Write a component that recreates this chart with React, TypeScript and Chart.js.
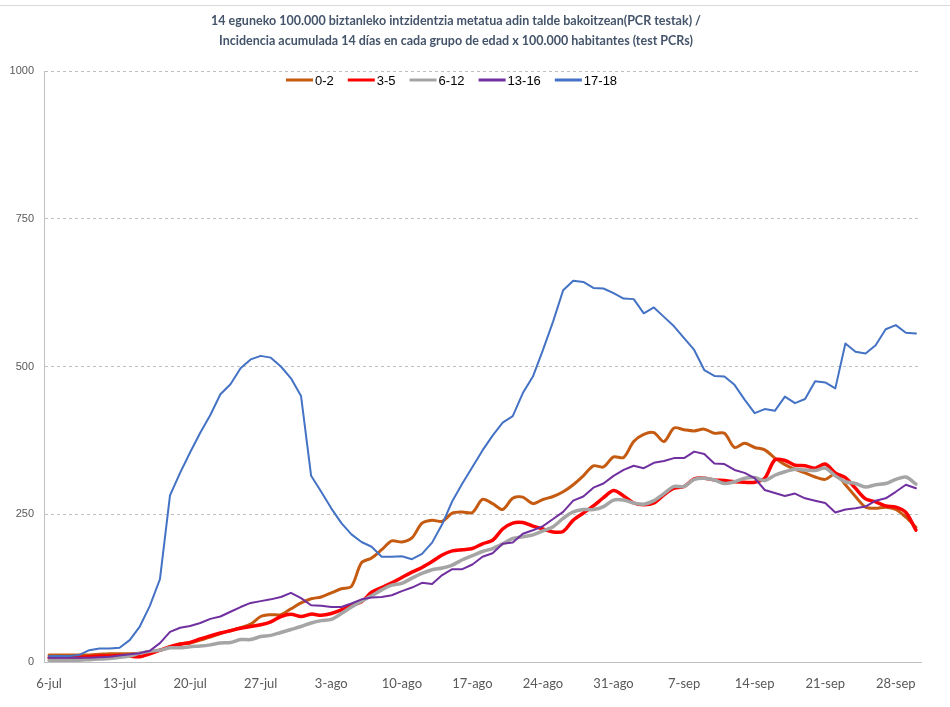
import React, { useEffect, useRef } from "react";
import { Chart, registerables } from "chart.js";

Chart.register(...registerables);

const dates = [
  "6-jul","7-jul","8-jul","9-jul","10-jul","11-jul","12-jul","13-jul","14-jul","15-jul","16-jul","17-jul","18-jul","19-jul","20-jul","21-jul","22-jul","23-jul","24-jul","25-jul","26-jul","27-jul","28-jul","29-jul","30-jul","31-jul",
  "1-ago","2-ago","3-ago","4-ago","5-ago","6-ago","7-ago","8-ago","9-ago","10-ago","11-ago","12-ago","13-ago","14-ago","15-ago","16-ago","17-ago","18-ago","19-ago","20-ago","21-ago","22-ago","23-ago","24-ago","25-ago","26-ago","27-ago","28-ago","29-ago","30-ago","31-ago",
  "1-sep","2-sep","3-sep","4-sep","5-sep","6-sep","7-sep","8-sep","9-sep","10-sep","11-sep","12-sep","13-sep","14-sep","15-sep","16-sep","17-sep","18-sep","19-sep","20-sep","21-sep","22-sep","23-sep","24-sep","25-sep","26-sep","27-sep","28-sep","29-sep","30-sep",
];

const age0_2 = [
  12,12,12,12,12,13,14,14,14,15,18,20,25,31,32,37,42,48,53,58,64,77,80,80,90,100,
  107,110,117,124,128,168,176,190,205,203,210,235,240,238,252,254,253,275,268,258,277,279,268,275,280,288,300,315,332,330,347,
  346,373,385,388,373,396,393,391,394,387,387,363,370,363,359,345,334,326,320,313,309,318,300,280,262,260,262,258,245,228,
];
const age3_5 = [
  7,7,8,8,9,10,10,11,10,9,14,20,26,30,33,39,44,49,53,57,60,63,68,77,81,77,
  81,79,82,88,96,102,118,126,134,143,152,160,170,181,188,190,192,200,206,225,235,236,230,225,220,221,240,252,264,278,290,
  281,269,266,269,283,294,297,310,311,308,307,305,304,304,311,342,341,333,332,328,335,320,312,294,276,271,264,262,253,223,
];
const age6_12 = [
  3,3,3,3,4,5,6,8,10,15,18,20,24,24,26,27,29,32,33,38,38,43,45,50,55,60,
  66,70,72,82,93,103,112,122,130,133,142,150,156,159,164,173,180,187,192,200,209,212,215,222,229,243,254,258,258,263,274,
  274,269,267,273,285,297,297,309,311,308,302,305,311,312,307,316,322,326,325,324,328,315,305,302,296,300,302,309,313,301,
];
const age13_16 = [
  7,7,7,7,7,8,9,11,13,15,19,32,51,58,61,66,73,77,85,93,100,103,106,110,117,108,
  96,95,93,93,99,106,109,110,113,120,126,134,132,147,157,157,165,178,184,200,202,217,223,230,242,254,273,280,295,302,315,
  325,332,328,337,340,345,345,356,352,336,335,325,320,311,291,286,281,285,277,273,269,253,258,260,263,273,277,288,300,294,
];
const age17_18 = [
  10,10,10,12,20,23,23,24,37,60,95,140,282,320,355,388,418,453,470,497,512,518,515,500,480,450,
  315,288,260,235,216,203,195,178,178,179,174,183,202,233,272,302,330,358,383,405,416,455,483,528,576,629,645,643,633,632,624,
  615,614,590,600,584,568,548,528,494,484,483,469,444,421,428,425,449,438,445,475,473,463,539,525,522,536,563,570,557,556,
];

const seriesNames = ["0-2", "3-5", "6-12", "13-16", "17-18"];
const seriesData = [age0_2, age3_5, age6_12, age13_16, age17_18];
const seriesColors = ["#C55A11", "#FF0000", "#A5A5A5", "#7030A0", "#4472C4"];
const seriesWidths = [3, 3.5, 3.5, 2, 2];
const seriesTension = [0.3, 0.3, 0.3, 0, 0];

const titleLines = [
  "14 eguneko 100.000 biztanleko intzidentzia metatua adin talde bakoitzean(PCR testak) /",
  "Incidencia acumulada 14 días en cada grupo de edad x 100.000 habitantes (test PCRs)",
];
const yMin = 0;
const yMax = 1000;
const yStep = 250;
const tickEvery = 7;

export default function App() {
  const ref = useRef<HTMLCanvasElement | null>(null);

  useEffect(() => {
    document.body.style.margin = "0";
    const canvas = ref.current;
    if (!canvas) return;

    const decor = {
      id: "decor",
      afterDraw(chart: any) {
        const c = chart.ctx as CanvasRenderingContext2D;
        c.save();
        c.strokeStyle = "#D9D9D9";
        c.lineWidth = 1;
        c.beginPath();
        c.moveTo(0, 5.5);
        c.lineTo(950, 5.5);
        c.stroke();

        c.fillStyle = "#44546A";
        c.textAlign = "center";
        c.textBaseline = "middle";
        c.font = "bold 12.5px Lato";
        titleLines.forEach((t, i) => c.fillText(t, 456, 21 + i * 20));

        c.font = "13px 'Liberation Sans'";
        c.textAlign = "left";
        let x = 286;
        const y = 80;
        seriesNames.forEach((n, i) => {
          c.strokeStyle = seriesColors[i];
          c.lineWidth = 3;
          c.beginPath();
          c.moveTo(x, y);
          c.lineTo(x + 27, y);
          c.stroke();
          c.fillStyle = "#000000";
          c.fillText(n, x + 29, y + 1);
          x += 29 + c.measureText(n).width + 14;
        });
        c.restore();
      },
    };

    const chart = new Chart(canvas, {
      type: "line",
      data: {
        labels: dates,
        datasets: seriesNames.map((name, i) => ({
          label: name,
          data: seriesData[i],
          borderColor: seriesColors[i],
          backgroundColor: seriesColors[i],
          borderWidth: seriesWidths[i],
          pointRadius: 0,
          tension: seriesTension[i],
          borderJoinStyle: "round" as const,
          borderCapStyle: "round" as const,
          fill: false,
          order: seriesNames.length - i,
        })),
      },
      options: {
        responsive: false,
        animation: false,
        layout: { padding: { top: 71, right: 29, bottom: 0, left: 0 } },
        plugins: {
          legend: { display: false },
          title: { display: false },
          tooltip: { enabled: false },
        },
        scales: {
          x: {
            type: "category",
            offset: true,
            grid: { display: false, drawTicks: false },
            border: { display: true, color: "#BFBFBF", width: 1 },
            ticks: {
              autoSkip: false,
              maxRotation: 0,
              minRotation: 0,
              padding: 14,
              color: "#595959",
              font: { family: "Lato", size: 13 },
              callback: (_v: any, i: number) => (i % tickEvery === 0 ? dates[i] : ""),
            },
            afterFit: (s: any) => {
              s.height = 45;
            },
          },
          y: {
            min: yMin,
            max: yMax,
            ticks: {
              stepSize: yStep,
              padding: 10,
              color: "#595959",
              font: { family: "Liberation Sans", size: 11 },
              callback: (v: any) => String(v),
            },
            grid: {
              drawTicks: false,
              lineWidth: 1,
              color: (ctx: any) => (ctx.tick && ctx.tick.value === 0 ? "rgba(0,0,0,0)" : "#BFBFBF"),
              borderDash: [3, 3],
            } as any,
            border: { display: true, color: "#BFBFBF", width: 1, dash: [3, 3] },
            afterFit: (s: any) => {
              s.width = 44;
            },
          },
        },
      },
      plugins: [decor],
    });

    return () => chart.destroy();
  }, []);

  return (
    <div style={{ width: 950, height: 707, position: "relative", background: "#fff" }}>
      <canvas ref={ref} width={950} height={707} />
    </div>
  );
}
